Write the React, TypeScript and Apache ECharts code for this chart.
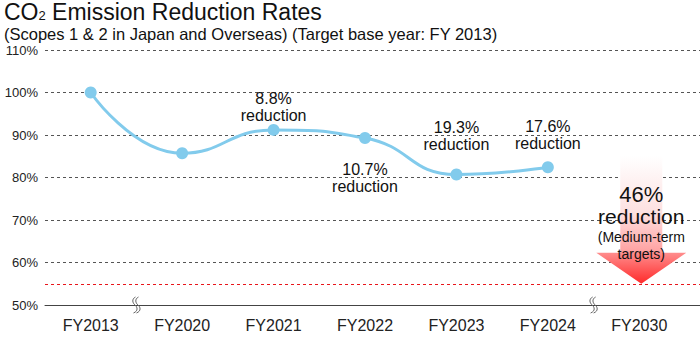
import React, { useEffect, useRef } from "react";
import * as echarts from "echarts";

const categories = ["FY2013", "FY2020", "FY2021", "FY2022", "FY2023", "FY2024", "FY2030"];
const emissionRates: (number | null)[] = [100, 85.7, 91.2, 89.3, 80.7, 82.4, null];
const labelledIndexes = [2, 3, 4, 5];
const yMin = 50;
const yMax = 110;
const yInterval = 10;
const targetLevel = 55;
const targetIndex = 6;
const targetTexts = ["46%", "reduction", "(Medium-term", "targets)"];
const breakIndexes = [0, 5];
const titleParts = ["CO", "2", " Emission Reduction Rates"];
const subtitleText = "(Scopes 1 & 2 in Japan and Overseas) (Target base year: FY 2013)";

const FONT = "'Liberation Sans', Arial, sans-serif";
const LINE_COLOR = "#82cbec";

const labelPlacement: Record<number, any> = {
  2: { position: "top", distance: 0 },
  3: { position: "bottom", distance: 17 },
  4: { position: "top", distance: 16 },
  5: { position: "top", distance: 9 },
};

const breakPath =
  "M2,0 C-2,2 -1,6 1.5,8 C4,10 5,14 0,16 M5,0 C1,2 2,6 4.5,8 C7,10 8,14 3,16";

export default function App() {
  const ref = useRef<HTMLDivElement>(null);
  useEffect(() => {
    if (!ref.current) return;
    const chart = echarts.init(ref.current, null, { renderer: "svg" });
    const seriesData = emissionRates.map((v, i) => {
      const item: any = { value: v };
      if (labelledIndexes.includes(i)) {
        item.label = { show: true, ...labelPlacement[i] };
      }
      return item;
    });
    chart.setOption({
      animation: false,
      backgroundColor: "#ffffff",
      textStyle: { fontFamily: FONT },
      graphic: [
        {
          type: "text",
          left: 4,
          top: 0,
          style: {
            text: `{a|${titleParts[0]}}{b|${titleParts[1]}}{a|${titleParts[2]}}`,
            rich: {
              a: { fontSize: 23, fill: "#111", fontFamily: FONT, lineHeight: 24 },
              b: { fontSize: 13, fill: "#111", fontFamily: FONT, lineHeight: 24, padding: [8, 0, 0, 0] },
            },
          },
        },
        {
          type: "text",
          left: 4,
          top: 25,
          style: {
            text: subtitleText,
            fontSize: 16.5,
            fill: "#111",
            fontFamily: FONT,
          },
        },
      ],
      grid: [
        { left: 45, right: 0, top: 50, bottom: 35 },
        { left: 45, right: 15, top: 50, bottom: 35 },
      ],
      xAxis: [
        {
          gridIndex: 0,
          type: "value",
          min: 0,
          max: 1,
          axisLine: { show: true, onZero: false, lineStyle: { color: "#444", width: 1 } },
          axisTick: { show: false },
          axisLabel: { show: false },
          splitLine: { show: false },
        },
        {
          gridIndex: 1,
          type: "category",
          data: categories,
          boundaryGap: true,
          axisLine: { show: false },
          axisTick: { show: false },
          axisLabel: { color: "#222", fontSize: 16, margin: 12, fontFamily: FONT },
          splitLine: { show: false },
        },
      ],
      yAxis: [
        {
          gridIndex: 0,
          type: "value",
          min: yMin,
          max: yMax,
          interval: yInterval,
          axisLine: { show: false },
          axisTick: { show: false },
          axisLabel: { color: "#222", fontSize: 13, margin: 7, formatter: "{value}%", fontFamily: FONT },
          splitLine: { show: true, lineStyle: { color: "#555", type: [3, 3], width: 1 } },
        },
        {
          gridIndex: 1,
          type: "value",
          min: yMin,
          max: yMax,
          interval: yInterval,
          show: false,
          splitLine: { show: false },
        },
      ],
      series: [
        {
          type: "line",
          xAxisIndex: 0,
          yAxisIndex: 0,
          data: [],
          silent: true,
          markLine: {
            silent: true,
            symbol: "none",
            label: { show: false },
            lineStyle: { color: "#e8161b", type: [3, 3], width: 1 },
            data: [{ yAxis: targetLevel }],
          },
        },
        {
          type: "custom",
          xAxisIndex: 1,
          yAxisIndex: 1,
          silent: true,
          data: [[targetIndex, targetLevel]],
          renderItem: (params: any, api: any) => {
            const p = api.coord([api.value(0), api.value(1)]);
            const x = p[0] + 2;
            const y = p[1];
            const headH = 31;
            const headHW = 45;
            const shaftHW = 21;
            const shaftTop = y - 128;
            const textStyle = (t: string, dy: number, size: number) => ({
              type: "text",
              style: {
                text: t,
                x,
                y: y + dy,
                align: "center",
                verticalAlign: "middle",
                fontSize: size,
                fontFamily: FONT,
                fill: "#111",
              },
            });
            return {
              type: "group",
              children: [
                {
                  type: "polygon",
                  shape: {
                    points: [
                      [x - shaftHW, shaftTop],
                      [x + shaftHW, shaftTop],
                      [x + shaftHW, y - headH],
                      [x + headHW, y - headH],
                      [x, y],
                      [x - headHW, y - headH],
                      [x - shaftHW, y - headH],
                    ],
                  },
                  style: {
                    fill: new echarts.graphic.LinearGradient(0, 0, 0, 1, [
                      { offset: 0, color: "#ffffff" },
                      { offset: 0.45, color: "#fde0e0" },
                      { offset: 0.74, color: "#ffa3a3" },
                      { offset: 0.76, color: "#ff8c8c" },
                      { offset: 1, color: "#ff2a2a" },
                    ]),
                  },
                },
                textStyle(targetTexts[0], -89, 22),
                textStyle(targetTexts[1], -67, 21),
                textStyle(targetTexts[2], -47, 14),
                textStyle(targetTexts[3], -30, 14),
              ],
            };
          },
          z: 3,
        },
        {
          type: "custom",
          xAxisIndex: 1,
          yAxisIndex: 1,
          silent: true,
          data: breakIndexes.map((i) => [i, yMin]),
          renderItem: (params: any, api: any) => {
            const p = api.coord([api.value(0), api.value(1)]);
            const bw = api.size([1, 0])[0];
            const cx = p[0] + bw / 2;
            const cy = p[1];
            return {
              type: "path",
              shape: { pathData: breakPath, x: cx - 4, y: cy - 8, width: 8, height: 16 },
              style: { fill: "none", stroke: "#666", lineWidth: 1 },
            };
          },
          z: 4,
        },
        {
          type: "line",
          xAxisIndex: 1,
          yAxisIndex: 1,
          data: seriesData,
          smooth: 0.5,
          symbol: "circle",
          symbolSize: 12,
          lineStyle: { color: LINE_COLOR, width: 3 },
          itemStyle: { color: LINE_COLOR },
          label: {
            show: false,
            color: "#111",
            fontSize: 16,
            lineHeight: 17,
            fontFamily: FONT,
            formatter: (p: any) => `${(100 - p.value).toFixed(1)}%\nreduction`,
          },
          z: 5,
        },
      ],
    });
    return () => chart.dispose();
  }, []);
  return <div ref={ref} style={{ width: 700, height: 340, position: "absolute", left: 0, top: 0 }} />;
}
